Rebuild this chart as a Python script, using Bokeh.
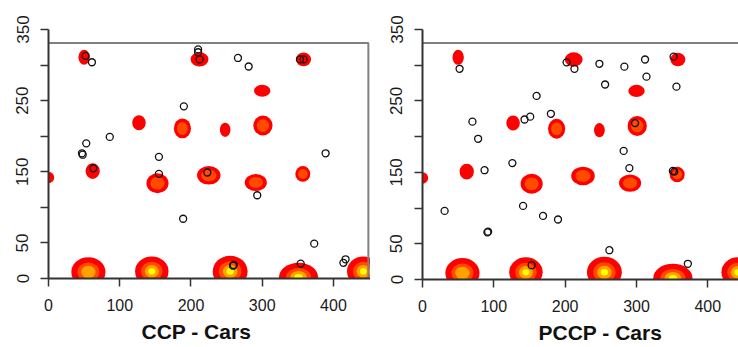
from bokeh.plotting import figure
from bokeh.layouts import row
from bokeh.models import FixedTicker, Title
from bokeh.embed import file_html
from bokeh.resources import INLINE

# ---- shared heat blobs (same background in both panels) ----
blob_x = [50, 212, 358, 300, 127, 188, 248, 301, 0, 62, 153, 225, 291, 357, 56, 145, 255, 351, 442]
blob_y = [311, 308, 308, 264, 219, 211, 209, 215, 142, 151, 134, 145, 135, 147, 9, 10, 10, 2, 10]
blob_w = [16, 25, 21, 23, 19, 24, 15, 27, 16, 20, 31, 33, 31, 21, 48, 47, 49, 55, 46]
blob_h = [21, 20, 19, 17, 21, 28, 20, 28, 16, 22, 28, 26, 24, 22, 42, 42, 44, 40, 42]
blob_lvl = [1, 1, 1, 1, 1, 2, 1, 2, 1, 1, 2, 2, 2, 2, 3, 4, 4, 4, 4]

# ---- open circles ----
ccp_x = [52, 61, 210, 210, 212, 266, 281, 353, 358, 190, 86, 53, 47, 48, 155, 155, 223, 389, 63,
         293, 189, 373, 354, 417, 414, 259, 260]
ccp_y = [313, 304, 322, 318, 308, 310, 298, 308, 308, 242, 199, 190, 176, 174, 171, 147, 149, 176, 155,
         117, 84, 49, 21, 27, 22, 18, 19]

pccp_x = [52, 202, 213, 248, 283, 312, 314, 352, 356, 256, 160, 180, 143, 151, 70, 78, 298, 282, 126,
          87, 290, 351, 353, 31, 141, 169, 190, 91, 92, 262, 153, 372]
pccp_y = [295, 304, 295, 302, 298, 308, 284, 312, 270, 273, 257, 232, 224, 228, 221, 197, 219, 180, 163,
          153, 156, 152, 151, 96, 103, 89, 84, 66, 67, 41, 20, 22]

titles = ["CCP - Cars", "PCCP - Cars"]
x_ticks = [0, 100, 200, 300, 400]
y_ticks = [0, 50, 100, 150, 200, 250, 300, 350]
y_labels = {100: "", 200: "", 300: ""}

layer_colors = ["#FF0000", "#FF4A00", "#FFA200", "#FFFF00"]
layer_scale = [1.0, 0.64, 0.42, 0.21]

FONT = "Liberation Sans"


def make_panel(xs, ys, title, x_max, frame_w, frame_h, b_left, b_top, b_bottom, box_x, box_top, t_off):
    p = figure(width=b_left + frame_w, height=b_top + frame_h + b_bottom,
               x_range=(0, x_max), y_range=(0, 350),
               output_backend="svg", toolbar_location=None, tools="")
    p.frame_width = frame_w
    p.frame_height = frame_h
    p.min_border_left = b_left
    p.min_border_right = 0
    p.min_border_top = b_top
    p.min_border_bottom = b_bottom
    p.outline_line_color = None
    p.grid.visible = False
    p.background_fill_color = "white"
    p.border_fill_color = "white"

    for k in range(4):
        idx = [i for i in range(len(blob_x)) if blob_lvl[i] > k]
        p.ellipse(x=[blob_x[i] for i in idx], y=[blob_y[i] for i in idx],
                  width=[blob_w[i] * layer_scale[k] for i in idx],
                  height=[blob_h[i] * layer_scale[k] for i in idx],
                  fill_color=layer_colors[k], line_color=None)

    # plot box (top and optionally right edge)
    p.line(x=box_x, y=box_top, line_color="#808080", line_width=2)

    p.scatter(x=xs, y=ys, marker="circle", size=7, fill_color=None,
              line_color="#111111", line_width=1.3)

    for ax in (p.xaxis[0], p.yaxis[0]):
        ax.axis_line_color = "#333333"
        ax.axis_line_width = 2
        ax.major_tick_line_color = "#333333"
        ax.major_tick_line_width = 1.5
        ax.major_tick_out = 8
        ax.major_tick_in = 0
        ax.minor_tick_line_color = None
        ax.major_label_text_font = FONT
        ax.major_label_text_color = "#1a1a1a"

    p.xaxis.ticker = FixedTicker(ticks=x_ticks)
    p.yaxis.ticker = FixedTicker(ticks=y_ticks)
    p.yaxis.major_label_overrides = y_labels
    p.yaxis.major_label_orientation = "vertical"
    p.xaxis.major_label_text_font_size = "16px"
    p.yaxis.major_label_text_font_size = "17px"
    p.xaxis.major_label_standoff = 12
    p.yaxis.major_label_standoff = 12

    p.add_layout(Title(text=title, align="left", offset=t_off, standoff=9,
                       text_font=FONT, text_font_style="bold", text_font_size="21px",
                       text_color="#111111"), "below")
    return p


p1 = make_panel(ccp_x, ccp_y, titles[0], 452, 322, 249, 48, 27, 71,
                [0, 449, 449], [331, 331, 0], 93)
p2 = make_panel(pccp_x, pccp_y, titles[1], 443, 316, 250, 52, 29, 68,
                [0, 443], [331, 331], 116)

p = row(p1, p2)
open("out.html", "w").write(file_html(p, INLINE))
